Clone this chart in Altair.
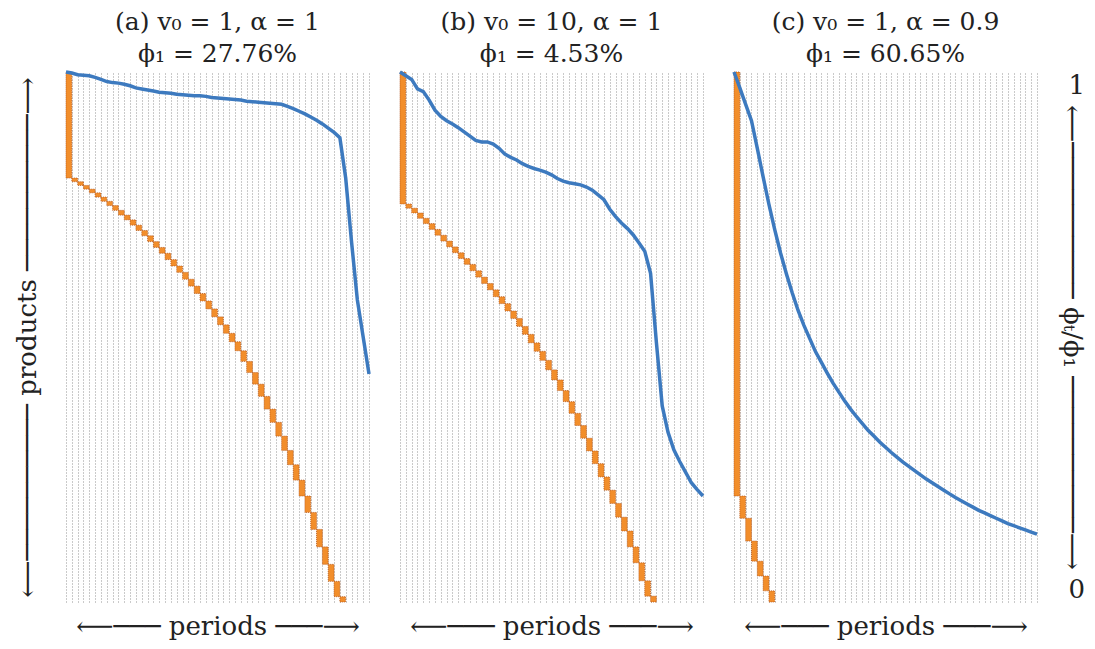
import altair as alt
import pandas as pd

N_PERIODS = 52
FONT = "DejaVu Serif"
ORANGE = "#f28e2b"
BLUE = "#3d7abf"
TXT = "#222222"

# cumulative share of products (from top) reached at the end of each period
a_ends = [0.200, 0.207, 0.214, 0.221, 0.228, 0.236, 0.244, 0.252, 0.261, 0.270,
          0.279, 0.289, 0.299, 0.309, 0.320, 0.331, 0.342, 0.354, 0.366, 0.378,
          0.391, 0.404, 0.418, 0.432, 0.447, 0.462, 0.477, 0.493, 0.509, 0.526,
          0.546, 0.567, 0.589, 0.612, 0.636, 0.661, 0.687, 0.714, 0.741, 0.770,
          0.800, 0.831, 0.863, 0.896, 0.929, 0.961, 0.990, 1.000]
b_ends = [0.249, 0.257, 0.266, 0.276, 0.286, 0.297, 0.308, 0.319, 0.330, 0.341,
          0.352, 0.363, 0.375, 0.387, 0.399, 0.411, 0.424, 0.437, 0.451, 0.465,
          0.480, 0.495, 0.511, 0.527, 0.544, 0.562, 0.581, 0.601, 0.622, 0.644,
          0.667, 0.691, 0.715, 0.739, 0.764, 0.789, 0.814, 0.840, 0.866, 0.896,
          0.926, 0.960, 0.989, 1.000]
c_ends = [0.800, 0.842, 0.885, 0.923, 0.951, 0.979, 1.000]

# phi_t / phi_1 at each period boundary
a_phi = [1.000, 0.998, 0.995, 0.994, 0.993, 0.990, 0.986, 0.982, 0.980, 0.979,
         0.977, 0.974, 0.970, 0.968, 0.966, 0.964, 0.962, 0.961, 0.960, 0.958,
         0.957, 0.956, 0.955, 0.955, 0.954, 0.952, 0.951, 0.950, 0.949, 0.948,
         0.947, 0.945, 0.944, 0.943, 0.942, 0.941, 0.940, 0.939, 0.935, 0.931,
         0.926, 0.921, 0.915, 0.909, 0.902, 0.894, 0.886, 0.876, 0.800, 0.680,
         0.570, 0.500, 0.430]
b_phi = [1.000, 0.993, 0.986, 0.968, 0.963, 0.947, 0.928, 0.916, 0.908, 0.902,
         0.895, 0.887, 0.879, 0.871, 0.868, 0.868, 0.864, 0.856, 0.845, 0.839,
         0.834, 0.827, 0.822, 0.818, 0.815, 0.811, 0.806, 0.799, 0.794, 0.791,
         0.789, 0.787, 0.783, 0.777, 0.768, 0.759, 0.741, 0.727, 0.715, 0.705,
         0.693, 0.678, 0.662, 0.620, 0.490, 0.370, 0.320, 0.287, 0.265, 0.245,
         0.225, 0.212, 0.200]
c_phi = [1.000, 0.970, 0.939, 0.908, 0.856, 0.802, 0.750, 0.702, 0.658, 0.619,
         0.583, 0.550, 0.522, 0.497, 0.472, 0.452, 0.432, 0.413, 0.396, 0.379,
         0.364, 0.350, 0.337, 0.324, 0.313, 0.302, 0.292, 0.282, 0.273, 0.264,
         0.256, 0.248, 0.240, 0.232, 0.225, 0.218, 0.211, 0.204, 0.197, 0.191,
         0.185, 0.179, 0.173, 0.168, 0.163, 0.158, 0.153, 0.148, 0.144, 0.140,
         0.136, 0.132, 0.128]

titles = [
    ["(a) v₀ = 1, α = 1", "ϕ₁ = 27.76%"],
    ["(b) v₀ = 10, α = 1", "ϕ₁ = 4.53%"],
    ["(c) v₀ = 1, α = 0.9", "ϕ₁ = 60.65%"],
]

X_TITLE = "⟵─── periods ───⟶"
P_TITLE = "⟵────────── products ──────────⟶"
R_TITLE = "⟵────────── ϕₜ/ϕ₁ ──────────⟶"

W, H = 303, 530


def panel(ends, phi, title, left=False, right=False):
    rows = []
    prev = 0.0
    for i, e in enumerate(ends):
        rows.append({"t0": i, "t1": i + 1, "s0": prev, "s1": e})
        prev = e
    odf = pd.DataFrame(rows)
    ldf = pd.DataFrame({"t": list(range(len(phi))), "phi": phi})

    xs = alt.Scale(domain=[0, N_PERIODS], nice=False, zero=False)
    xaxis = alt.Axis(
        values=list(range(N_PERIODS + 1)), grid=True, gridColor="#959595",
        gridDash=[1, 2], gridWidth=1, labels=False, ticks=False, domain=False,
        title=X_TITLE, titleFont=FONT, titleFontSize=26, titleFontWeight="normal",
        titleColor=TXT, titleY=24, titleBaseline="middle",
    )
    if left:
        oaxis = alt.Axis(
            labels=False, ticks=False, domain=False, grid=False,
            title=P_TITLE, titleFont=FONT, titleFontSize=26,
            titleFontWeight="normal", titleColor=TXT, titleAngle=270,
            titleX=-39, titleY=H / 2, titleBaseline="middle", titleAlign="center",
        )
    else:
        oaxis = None
    if right:
        laxis = alt.Axis(
            orient="right", values=[0, 1], format="d", labelFlush=True,
            labelPadding=31, ticks=False, domain=False, grid=False,
            labelFont=FONT, labelFontSize=26, labelColor=TXT,
            title=R_TITLE, titleFont=FONT, titleFontSize=26,
            titleFontWeight="normal", titleColor=TXT, titleAngle=90,
            titleX=34, titleY=H / 2, titleBaseline="middle", titleAlign="center",
        )
    else:
        laxis = None

    orange = alt.Chart(odf).mark_rect(
        color=ORANGE, stroke="#b3541a", strokeWidth=0.8, strokeDash=[1, 1]
    ).encode(
        x=alt.X("t0:Q", scale=xs, axis=xaxis),
        x2="t1",
        y=alt.Y("s0:Q", scale=alt.Scale(domain=[0, 1], reverse=True, nice=False), axis=oaxis),
        y2="s1",
    )
    line = alt.Chart(ldf).mark_line(color=BLUE, strokeWidth=3.5).encode(
        x=alt.X("t:Q", scale=xs, axis=xaxis),
        y=alt.Y("phi:Q", scale=alt.Scale(domain=[0, 1], nice=False), axis=laxis),
    )
    return alt.layer(orange, line).resolve_scale(y="independent").properties(
        width=W, height=H,
        title=alt.TitleParams(
            text=title, font=FONT, fontSize=25, fontWeight="normal",
            lineHeight=32, offset=-27, baseline="bottom", anchor="middle", color=TXT,
        ),
    )


pa = panel(a_ends, a_phi, titles[0], left=True)
pb = panel(b_ends, b_phi, titles[1])
pc = panel(c_ends, c_phi, titles[2], right=True)

chart = alt.hconcat(pa, pb, pc, spacing=31, bounds="flush").properties(
    padding={"left": 5, "top": 2, "right": 2, "bottom": 2}
).configure_view(stroke=None)

chart.save("out.html", embed_options={"renderer": "svg", "actions": False})
